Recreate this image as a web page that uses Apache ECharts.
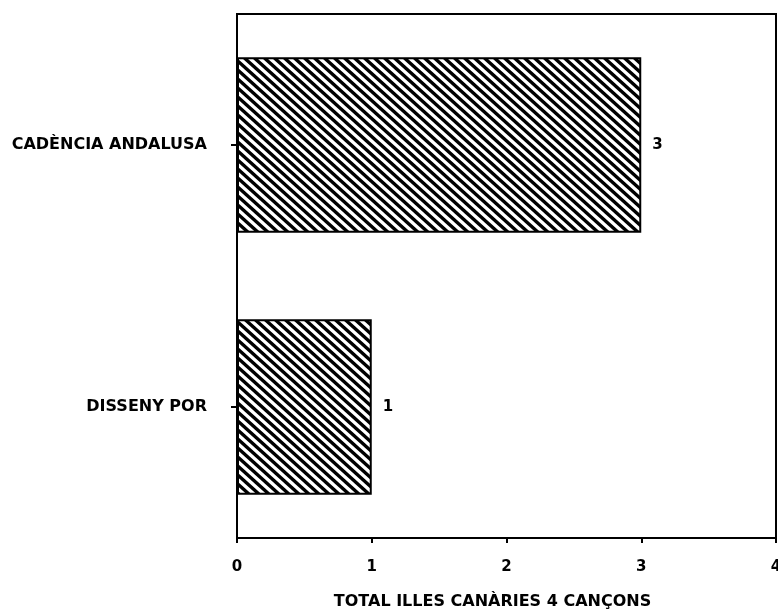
<!DOCTYPE html>
<html>
<head>
<meta charset="utf-8">
<script src="https://cdn.jsdelivr.net/npm/echarts@6/dist/echarts.min.js"></script>
<style>
  html, body { margin: 0; padding: 0; background: #fff; }
  #chart { width: 778px; height: 614px; }
</style>
</head>
<body>
<div id="chart"></div>
<script>
const categories = ['DISSENY POR', 'CADÈNCIA ANDALUSA'];
const values = [1, 3];
const xTicks = [0, 1, 2, 3, 4];
const axisTitle = 'TOTAL ILLES CANÀRIES 4 CANÇONS';

// diagonal hatching tile (lines running down-right)
function hatch() {
  const w = 10, h = 9;
  const c = document.createElement('canvas');
  c.width = w; c.height = h;
  const g = c.getContext('2d');
  g.fillStyle = '#fff';
  g.fillRect(0, 0, w, h);
  g.strokeStyle = '#000';
  g.lineWidth = 3.4;
  g.beginPath();
  for (let k = -1; k <= 1; k++) {
    g.moveTo(k * w - w, -h);
    g.lineTo(k * w + 2 * w, 2 * h);
  }
  g.stroke();
  return c;
}

const font = 'DejaVu Sans';
const chart = echarts.init(document.getElementById('chart'));
chart.setOption({
  animation: false,
  grid: {
    left: 237, right: 2, top: 14, bottom: 76,
    outerBoundsMode: 'none',
    show: true, borderColor: '#000', borderWidth: 2
  },
  xAxis: {
    type: 'value', min: 0, max: 4, interval: 1,
    name: axisTitle, nameLocation: 'middle', nameGap: 56,
    nameTextStyle: { color: '#000', fontFamily: font, fontWeight: 900, fontSize: 16, padding: [0, 28, 0, 0] },
    axisLine: { show: true, lineStyle: { color: '#000', width: 2 } },
    axisTick: { show: true, length: 5, lineStyle: { color: '#000', width: 2 } },
    axisLabel: {
      color: '#000', fontFamily: font, fontWeight: 900, fontSize: 15, margin: 22,
      formatter: v => xTicks.includes(v) ? String(v) : ''
    },
    splitLine: { show: false }
  },
  yAxis: {
    type: 'category', data: categories,
    axisLine: { show: true, lineStyle: { color: '#000', width: 2 } },
    axisTick: { show: true, alignWithLabel: true, length: 6, lineStyle: { color: '#000', width: 2 } },
    axisLabel: { color: '#000', fontFamily: font, fontWeight: 900, fontSize: 16, margin: 30 },
    splitLine: { show: false }
  },
  series: [{
    type: 'bar', data: values, barWidth: '67%',
    itemStyle: {
      color: { image: hatch(), repeat: 'repeat' },
      borderColor: '#000', borderWidth: 2
    },
    label: {
      show: true, position: 'right', distance: 11,
      color: '#000', fontFamily: font, fontWeight: 900, fontSize: 15
    }
  }]
});
</script>
</body>
</html>
